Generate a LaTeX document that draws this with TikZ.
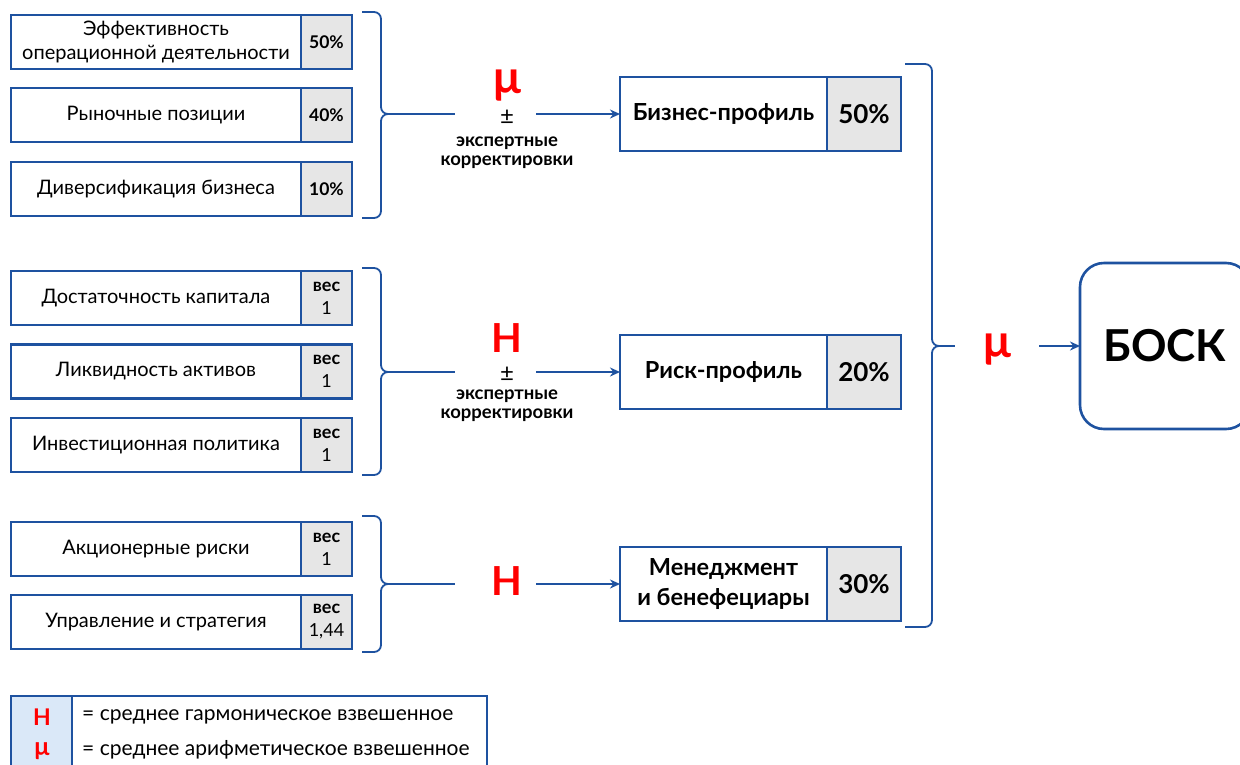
\documentclass[tikz,border=0pt]{standalone}
\usepackage{fontspec}
\setmainfont{Lato}
\usetikzlibrary{arrows.meta}
\definecolor{bl}{RGB}{30,82,160}
\definecolor{gr}{RGB}{230,230,230}
\definecolor{lb}{RGB}{218,232,248}
\definecolor{rd}{RGB}{255,0,0}
\newcommand\fs[2]{\fontsize{#1}{#2}\selectfont}
\newcommand\mybrace[6]{%
  \draw[brc] (#1,#3) -| (#2,#4) -- ++(6,0);
  \draw[brc] (#1,#5) -| (#2,#4) -- ++(6,0);
  \coordinate (#6) at ({#2+6},#4);}
\begin{document}
\begin{tikzpicture}[x=1pt,y=-1pt,
  item/.style={draw=bl, line width=2.4pt, outer sep=0pt, fill=white, minimum width=290pt, minimum height=54pt, anchor=west, inner sep=2pt, align=center, font=\fs{20}{24}},
  val/.style={draw=bl, line width=2.4pt, outer sep=0pt, fill=gr, minimum width=51pt, minimum height=54pt, anchor=west, inner sep=1pt, align=center, font=\fs{17.5}{20}\bfseries},
  wt/.style={val, font=\fs{18}{23}},
  prof/.style={draw=bl, line width=2.4pt, outer sep=0pt, fill=white, minimum width=207pt, minimum height=74pt, anchor=west, inner sep=2pt, align=center, font=\fs{23.5}{30}\bfseries},
  pval/.style={draw=bl, line width=2.4pt, outer sep=0pt, fill=gr, minimum width=74pt, minimum height=74pt, anchor=west, font=\fs{26}{28}\bfseries},
  brc/.style={draw=bl, line width=1.8pt, rounded corners=7pt},
  con/.style={draw=bl, line width=1.8pt},
  arr/.style={con, -{Stealth[length=10pt,width=9pt]}},
  gap/.style={minimum width=81pt, minimum height=2pt, inner sep=0pt},
  big/.style={text=rd, font=\fs{40}{44}\bfseries, inner sep=0pt},
  bigm/.style={text=rd, font=\fs{46}{48}\bfseries, inner sep=0pt},
  pm/.style={font=\fs{24}{26}, inner sep=0pt},
  note/.style={font=\fs{18.5}{19}\bfseries, align=center, inner sep=0pt},
  legt/.style={font=\fs{21}{24}, anchor=west, inner sep=0pt}
]
\clip (0,0) rectangle (1240,764);
\useasboundingbox (0,0) rectangle (1240,764);

% ---------- group 1 ----------
\node[item] (a1) at (11,42) {Эффективность\\операционной деятельности};
\node[val] (a1v) at (a1.east) {50\%};
\node[item] (a2) at (11,115) {Рыночные позиции};
\node[val] (a2v) at (a2.east) {40\%};
\node[item] (a3) at (11,189) {Диверсификация бизнеса};
\node[val] (a3v) at (a3.east) {10\%};
\mybrace{362}{381}{12}{114}{218}{t1}

\node[gap] (g1) at (495.5,114) {};
\node[bigm] (m1) at (507,86) {μ};
\node[pm] (pm1) at (507,117) {±};
\node[note] (n1) at (507,153) {экспертные\\корректировки};

\node[prof] (p1) at (620,114) {Бизнес-профиль};
\node[pval] (p1v) at (p1.east) {50\%};
\draw[con] (t1) -- (g1.west);
\draw[arr] (g1.east) -- (p1.west);

% ---------- group 2 ----------
\node[item] (b1) at (11,298) {Достаточность капитала};
\node[wt] (b1v) at (b1.east) {\textbf{вес}\\1};
\node[item] (b2) at (11,371.5) {Ликвидность активов};
\node[wt] (b2v) at (b2.east) {\textbf{вес}\\1};
\node[item] (b3) at (11,445) {Инвестиционная политика};
\node[wt] (b3v) at (b3.east) {\textbf{вес}\\1};
\mybrace{362}{381}{268}{372}{475}{t2}

\node[gap] (g2) at (495.5,372) {};
\node[big] (h2) at (507,338) {Н};
\node[pm] (pm2) at (507,374) {±};
\node[note] (n2) at (507,406) {экспертные\\корректировки};

\node[prof] (p2) at (620,372) {Риск-профиль};
\node[pval] (p2v) at (p2.east) {20\%};
\draw[con] (t2) -- (g2.west);
\draw[arr] (g2.east) -- (p2.west);

% ---------- group 3 ----------
\node[item] (c1) at (11,549) {Акционерные риски};
\node[wt] (c1v) at (c1.east) {\textbf{вес}\\1};
\node[item] (c2) at (11,622) {Управление и стратегия};
\node[wt] (c2v) at (c2.east) {\textbf{вес}\\1,44};
\mybrace{362}{381}{516}{584}{652}{t3}

\node[gap] (g3) at (495.5,584) {};
\node[big] (h3) at (507,581) {Н};

\node[prof] (p3) at (620,584) {Менеджмент\\и бенефециары};
\node[pval] (p3v) at (p3.east) {30\%};
\draw[con] (t3) -- (g3.west);
\draw[arr] (g3.east) -- (p3.west);

% ---------- right brace ----------
\draw[brc] (905,64) -| (932,346) -- ++(6,0);
\draw[brc] (905,627) -| (932,346) -- ++(6,0);
\coordinate (t4) at (938,346);
\node[minimum width=84pt, minimum height=2pt, inner sep=0pt] (g4) at (997,346) {};
\node[bigm] (m4) at (997,350) {μ};
\node[draw=bl, line width=2.6pt, outer sep=0pt, rounded corners=24pt, minimum width=170pt, minimum height=166pt, anchor=west, font=\fs{44}{48}\bfseries] (bosk) at (1080,346) {БОСК};
\draw[con] (t4) -- (g4.west);
\draw[arr] (g4.east) -- (bosk.west);

% ---------- legend ----------
\node[draw=bl, line width=1.2pt, fill=lb, minimum width=61pt, minimum height=90pt, anchor=north west, inner sep=0pt, outer sep=0pt] (lgA) at (11,696) {};
\node[draw=bl, line width=1.2pt, minimum width=415pt, minimum height=90pt, anchor=north west, inner sep=0pt, outer sep=0pt] (lgB) at (lgA.north east) {};
\node[text=rd, font=\fs{23}{24}\bfseries, inner sep=0pt] (lH) at (42,717) {Н};
\node[text=rd, font=\fs{25}{26}\bfseries, inner sep=0pt] (lM) at (42,751) {μ};
\node[legt] (lt1) at (82,717) {= среднее гармоническое взвешенное};
\node[legt] (lt2) at (82,750) {= среднее арифметическое взвешенное};
\end{tikzpicture}
\end{document}
